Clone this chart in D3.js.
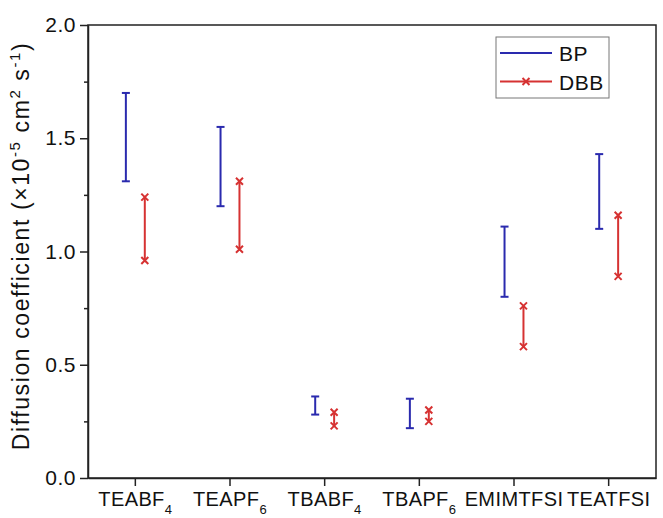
<!DOCTYPE html>
<html><head><meta charset="utf-8">
<script src="https://cdn.jsdelivr.net/npm/d3@7"></script>
<style>body{margin:0;background:#fff}svg{display:block}</style>
</head><body>
<svg id="chart" width="663" height="518"></svg>
<script>
const categories = ["TEABF4","TEAPF6","TBABF4","TBAPF6","EMIMTFSI","TEATFSI"];
const bpHigh  = [1.70, 1.55, 0.36, 0.35, 1.11, 1.43];
const bpLow   = [1.31, 1.20, 0.28, 0.22, 0.80, 1.10];
const dbbHigh = [1.24, 1.31, 0.29, 0.30, 0.76, 1.16];
const dbbLow  = [0.96, 1.01, 0.23, 0.25, 0.58, 0.89];
const yTicks = [0, 0.5, 1.0, 1.5, 2.0];
const yMinor = [0.25, 0.75, 1.25, 1.75];
const seriesNames = ["BP", "DBB"];

const blue = "#2a2aae", red = "#d63232", axisCol = "#222";
const font = "'Liberation Sans', Arial, sans-serif";
const svg = d3.select("#chart");
const L = 88, R = 656, T = 25, B = 478;

const x = d3.scaleBand().domain(categories).range([L, R]);
const y = d3.scaleLinear().domain([0, 2.0]).range([B, T]);
const cx = c => x(c) + x.bandwidth() / 2;
const off = x.bandwidth() * 0.1;

// frame
svg.append("rect").attr("x", L).attr("y", T).attr("width", R - L).attr("height", B - T)
  .attr("fill", "none").attr("stroke", axisCol).attr("stroke-width", 1.5);

// y axis
const ya = svg.append("g").attr("transform", `translate(${L},0)`)
  .call(d3.axisLeft(y).tickValues(yTicks).tickFormat(d3.format(".1f")).tickSize(8).tickSizeOuter(0).tickPadding(4));
ya.select(".domain").attr("stroke", axisCol).attr("stroke-width", 1.5);
ya.selectAll(".tick line").attr("stroke", axisCol).attr("stroke-width", 1.5);
ya.selectAll(".tick text").attr("font-family", font).attr("font-size", 21).attr("fill", "#111")
  .attr("letter-spacing", 0.5);
const ym = svg.append("g").attr("transform", `translate(${L},0)`)
  .call(d3.axisLeft(y).tickValues(yMinor).tickFormat("").tickSize(4).tickSizeOuter(0));
ym.select(".domain").remove();
ym.selectAll(".tick line").attr("stroke", axisCol).attr("stroke-width", 1.5);

// x axis
const xa = svg.append("g").attr("transform", `translate(0,${B})`)
  .call(d3.axisBottom(x).tickSize(8).tickSizeOuter(0).tickFormat(""));
xa.select(".domain").attr("stroke", axisCol).attr("stroke-width", 1.5);
xa.selectAll(".tick line").attr("stroke", axisCol).attr("stroke-width", 1.5);
xa.selectAll(".tick").each(function(c) {
  const m = c.match(/^(.*?)(\d*)$/);
  const t = d3.select(this).append("text").attr("y", 28).attr("text-anchor", "middle")
    .attr("font-family", font).attr("font-size", 20).attr("letter-spacing", 0.4).attr("fill", "#111");
  t.append("tspan").text(m[1]);
  if (m[2]) t.append("tspan").attr("font-size", 13).attr("dy", 8).text(m[2]);
});

// y title
const yt = svg.append("text").attr("transform", `translate(29,246) rotate(-90)`)
  .attr("text-anchor", "middle").attr("font-family", font).attr("font-size", 23)
  .attr("letter-spacing", 1.6).attr("fill", "#111");
yt.append("tspan").text("Diffusion coefficient (×10");
yt.append("tspan").attr("font-size", 15).attr("dy", -9).text("-5");
yt.append("tspan").attr("dy", 9).text(" cm");
yt.append("tspan").attr("font-size", 15).attr("dy", -9).text("2");
yt.append("tspan").attr("dy", 9).text(" s");
yt.append("tspan").attr("font-size", 15).attr("dy", -9).text("-1");
yt.append("tspan").attr("dy", 9).text(")");

// marks
const cap = 4, xs = 3.5;
function xMark(g, px, py, col) {
  g.append("path").attr("d", `M${px - xs},${py - xs}L${px + xs},${py + xs}M${px - xs},${py + xs}L${px + xs},${py - xs}`)
    .attr("stroke", col).attr("stroke-width", 2);
}
const marks = svg.append("g");
categories.forEach((c, i) => {
  const bx = cx(c) - off, dx = cx(c) + off;
  marks.append("line").attr("x1", bx).attr("x2", bx).attr("y1", y(bpHigh[i])).attr("y2", y(bpLow[i]))
    .attr("stroke", blue).attr("stroke-width", 2);
  [bpHigh[i], bpLow[i]].forEach(v => marks.append("line").attr("x1", bx - cap).attr("x2", bx + cap)
    .attr("y1", y(v)).attr("y2", y(v)).attr("stroke", blue).attr("stroke-width", 2));
  marks.append("line").attr("x1", dx).attr("x2", dx).attr("y1", y(dbbHigh[i])).attr("y2", y(dbbLow[i]))
    .attr("stroke", red).attr("stroke-width", 2);
  [dbbHigh[i], dbbLow[i]].forEach(v => xMark(marks, dx, y(v), red));
});

// legend
const lg = svg.append("g");
lg.append("rect").attr("x", 496).attr("y", 37).attr("width", 113).attr("height", 61)
  .attr("fill", "#fff").attr("stroke", "#777").attr("stroke-width", 1);
[[53, blue, seriesNames[0], false], [81.5, red, seriesNames[1], true]].forEach(([ly, col, name, mk]) => {
  lg.append("line").attr("x1", 500).attr("x2", 552).attr("y1", ly).attr("y2", ly)
    .attr("stroke", col).attr("stroke-width", 2);
  if (mk) xMark(lg, 526, ly, col);
  lg.append("text").attr("x", 559).attr("y", ly + 8).attr("font-family", font).attr("font-size", 21)
    .attr("letter-spacing", 0.5).attr("fill", "#111").text(name);
});
</script>
</body></html>
